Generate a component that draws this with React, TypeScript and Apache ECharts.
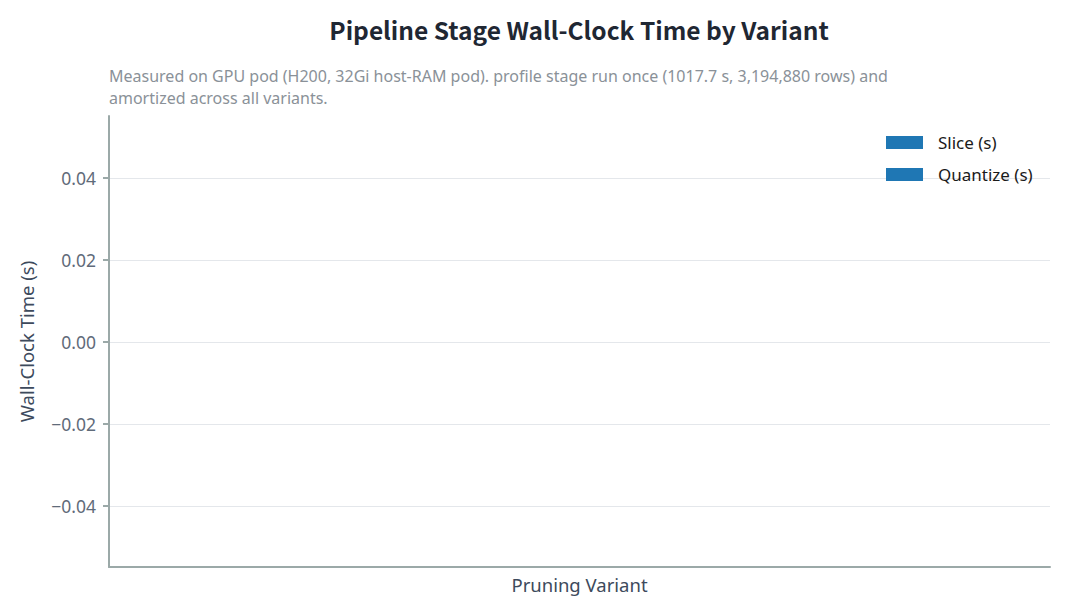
import { useEffect, useRef } from 'react';
import * as echarts from 'echarts';

// data: the source chart has no variants plotted
const categories: string[] = [];
const sliceSeconds: number[] = [];
const quantizeSeconds: number[] = [];
const yTicks = [-0.04, -0.02, 0.0, 0.02, 0.04];

const TITLE_FONT = '"Noto Sans CJK KR", "Noto Sans", sans-serif';
const FONT = '"Noto Sans", "Noto Sans CJK KR", sans-serif';
const AXIS_COLOR = '#9ba9a8';

const fmt = (v: number) => (v < 0 ? '\u2212' + Math.abs(v).toFixed(2) : v.toFixed(2));

const App = () => {
  const chartRef = useRef<HTMLDivElement>(null);

  useEffect(() => {
    if (!chartRef.current) return;
    document.body.style.margin = '0';
    const chart = echarts.init(chartRef.current, null, { renderer: 'svg' });

    const options: echarts.EChartsOption = {
      animation: false,
      backgroundColor: '#ffffff',
      textStyle: { fontFamily: FONT },
      graphic: [
        {
          type: 'text',
          x: 579,
          y: 29,
          style: {
            text: 'Pipeline Stage Wall-Clock Time by Variant',
            fontFamily: TITLE_FONT,
            fontSize: 24.5,
            fontWeight: 'bold',
            fill: '#1f2733',
            textAlign: 'center',
            textVerticalAlign: 'middle'
          }
        },
        {
          type: 'text',
          x: 109,
          y: 65,
          style: {
            text:
              'Measured on GPU pod (H200, 32Gi host-RAM pod). profile stage run once (1017.7 s, 3,194,880 rows) and\namortized across all variants.',
            fontFamily: FONT,
            fontSize: 16,
            lineHeight: 22,
            fill: '#8a9198',
            textAlign: 'left',
            textVerticalAlign: 'top'
          }
        }
      ],
      legend: {
        orient: 'vertical',
        left: 881,
        top: 129,
        itemWidth: 37,
        itemHeight: 13,
        itemGap: 15,
        icon: 'rect',
        textStyle: { fontSize: 17, color: '#1a1a1a', padding: [0, 0, 0, 10], fontFamily: FONT },
        data: ['Slice (s)', 'Quantize (s)']
      },
      grid: [
        { left: 109, right: 15, top: 116, bottom: 48 },
        { left: 109, right: 15, top: 178, bottom: 109 }
      ],
      xAxis: [
        {
          type: 'category',
          gridIndex: 0,
          data: categories,
          axisLine: { show: true, onZero: false, lineStyle: { color: AXIS_COLOR, width: 2 } },
          axisTick: { show: false },
          axisLabel: { show: false },
          name: 'Pruning Variant',
          nameLocation: 'middle',
          nameGap: 8,
          nameTextStyle: { fontSize: 18.5, color: '#3d4a5c', fontFamily: FONT }
        },
        {
          type: 'category',
          gridIndex: 1,
          data: categories,
          show: false
        }
      ],
      yAxis: [
        {
          type: 'value',
          gridIndex: 0,
          min: -0.055,
          max: 0.055,
          axisLine: { show: true, onZero: false, lineStyle: { color: AXIS_COLOR, width: 2 } },
          axisTick: { show: false },
          axisLabel: { show: false },
          splitLine: { show: false },
          name: 'Wall-Clock Time (s)',
          nameLocation: 'middle',
          nameRotate: 90,
          nameGap: 73,
          nameTextStyle: { fontSize: 18.5, color: '#3d4a5c', fontFamily: FONT }
        },
        {
          type: 'value',
          gridIndex: 1,
          min: yTicks[0],
          max: yTicks[yTicks.length - 1],
          interval: 0.02,
          axisLine: { show: false },
          axisTick: { show: true, length: 6, lineStyle: { color: AXIS_COLOR, width: 2 } },
          axisLabel: {
            fontSize: 17.5,
            color: '#5f6b7a',
            margin: 13,
            fontFamily: FONT,
            formatter: (v: number) => fmt(v)
          },
          splitLine: { show: true, lineStyle: { color: '#e4e7eb', width: 1 } }
        }
      ],
      series: [
        {
          name: 'Slice (s)',
          type: 'bar',
          xAxisIndex: 1,
          yAxisIndex: 1,
          data: sliceSeconds,
          itemStyle: { color: '#1f77b4' }
        },
        {
          name: 'Quantize (s)',
          type: 'bar',
          xAxisIndex: 1,
          yAxisIndex: 1,
          data: quantizeSeconds,
          itemStyle: { color: '#1f77b4' }
        }
      ]
    };

    chart.setOption(options);
    return () => {
      chart.dispose();
    };
  }, []);

  return <div ref={chartRef} style={{ width: 1065, height: 615 }} />;
};

export default App;
